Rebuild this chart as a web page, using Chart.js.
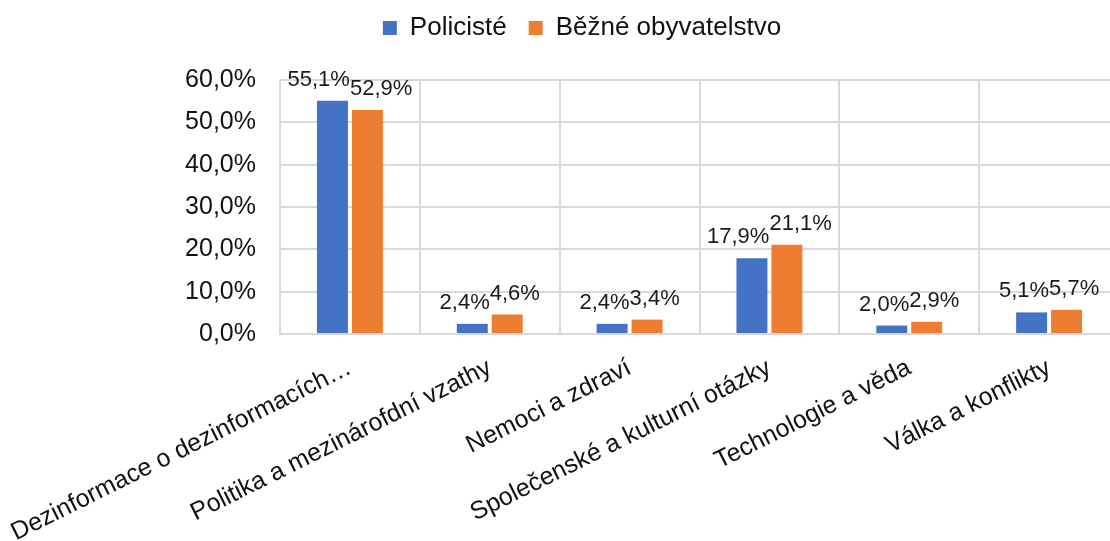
<!DOCTYPE html>
<html>
<head>
<meta charset="utf-8">
<script src="https://cdn.jsdelivr.net/npm/chart.js@4/dist/chart.umd.min.js"></script>
<style>
  html, body { margin: 0; padding: 0; background: #fff; overflow: hidden; }
  #wrap { width: 1120px; height: 541px; }
</style>
</head>
<body>
<div id="wrap"><canvas id="chart" width="1120" height="541"></canvas></div>
<script>
// Chart data
const categories = [
  'Dezinformace o dezinformacích…',
  'Politika a mezinárofdní vzathy',
  'Nemoci a zdraví',
  'Společenské a kulturní otázky',
  'Technologie a věda',
  'Válka a konflikty'
];
const seriesNames = ['Policisté', 'Běžné obyvatelstvo'];
const policiste = [55.1, 2.4, 2.4, 17.9, 2.0, 5.1];
const bezneObyvatelstvo = [52.9, 4.6, 3.4, 21.1, 2.9, 5.7];
const yTicks = [0, 10, 20, 30, 40, 50, 60];

const FONT = '"Liberation Sans", Arial, sans-serif';
const fmt = v => v.toFixed(1).replace('.', ',') + '%';

// value labels above the bars, pushed apart when a pair would overlap
const barLabels = {
  id: 'barLabels',
  afterDatasetsDraw(chart) {
    const ctx = chart.ctx;
    ctx.save();
    ctx.font = '22px ' + FONT;
    ctx.fillStyle = '#1a1a1a';
    ctx.textAlign = 'center';
    ctx.textBaseline = 'alphabetic';
    const m0 = chart.getDatasetMeta(0).data;
    const m1 = chart.getDatasetMeta(1).data;
    const d0 = chart.data.datasets[0].data;
    const d1 = chart.data.datasets[1].data;
    m0.forEach((bar0, j) => {
      const bar1 = m1[j];
      const t0 = fmt(d0[j]), t1 = fmt(d1[j]);
      const w0 = ctx.measureText(t0).width, w1 = ctx.measureText(t1).width;
      let x0 = bar0.x, x1 = bar1.x;
      const overlap = (x0 + w0 / 2) - (x1 - w1 / 2);
      if (overlap > 0) {
        x0 -= overlap / 2;
        x1 += overlap / 2;
      }
      ctx.fillText(t0, x0, bar0.y - 15);
      ctx.fillText(t1, x1, bar1.y - 15);
    });
    ctx.restore();
  }
};

// push the plot area down below the legend
const legendGap = {
  id: 'legendGap',
  beforeInit(chart) {
    const fit = chart.legend.fit;
    chart.legend.fit = function () {
      fit.bind(chart.legend)();
      this.height = 87;
    };
  }
};

const ctx = document.getElementById('chart').getContext('2d');
new Chart(ctx, {
  type: 'bar',
  data: {
    labels: categories,
    datasets: [
      {
        label: seriesNames[0],
        data: policiste,
        backgroundColor: '#4472C4',
        categoryPercentage: 0.5,
        barPercentage: 0.886
      },
      {
        label: seriesNames[1],
        data: bezneObyvatelstvo,
        backgroundColor: '#ED7D31',
        categoryPercentage: 0.5,
        barPercentage: 0.886
      }
    ]
  },
  options: {
    responsive: false,
    animation: false,
    layout: { padding: { top: -7, left: 45, right: 1, bottom: 0 } },
    plugins: {
      legend: {
        position: 'top',
        labels: {
          boxWidth: 14,
          boxHeight: 14,
          padding: 22,
          color: '#111',
          font: { family: FONT, size: 26 }
        }
      },
      tooltip: { enabled: false }
    },
    scales: {
      x: {
        grid: { color: '#d9d9d9', lineWidth: 2, drawTicks: false, offset: true },
        border: { color: '#d9d9d9', width: 2 },
        ticks: {
          color: '#111',
          font: { family: FONT, size: 25 },
          minRotation: 26.5,
          maxRotation: 26.5,
          autoSkip: false,
          padding: 19
        },
        afterFit(scale) {
          scale.height = 207;
          scale.paddingLeft = 0;
          scale.paddingRight = 0;
        }
      },
      y: {
        min: 0,
        max: 60,
        grid: { color: '#d9d9d9', lineWidth: 2, drawTicks: false },
        border: { display: false },
        afterBuildTicks(scale) { scale.ticks = yTicks.map(v => ({ value: v })); },
        ticks: {
          color: '#111',
          font: { family: FONT, size: 25 },
          padding: 24,
          callback: v => fmt(v)
        },
        afterFit(scale) { scale.width = 235; }
      }
    }
  },
  plugins: [barLabels, legendGap]
});
</script>
</body>
</html>
